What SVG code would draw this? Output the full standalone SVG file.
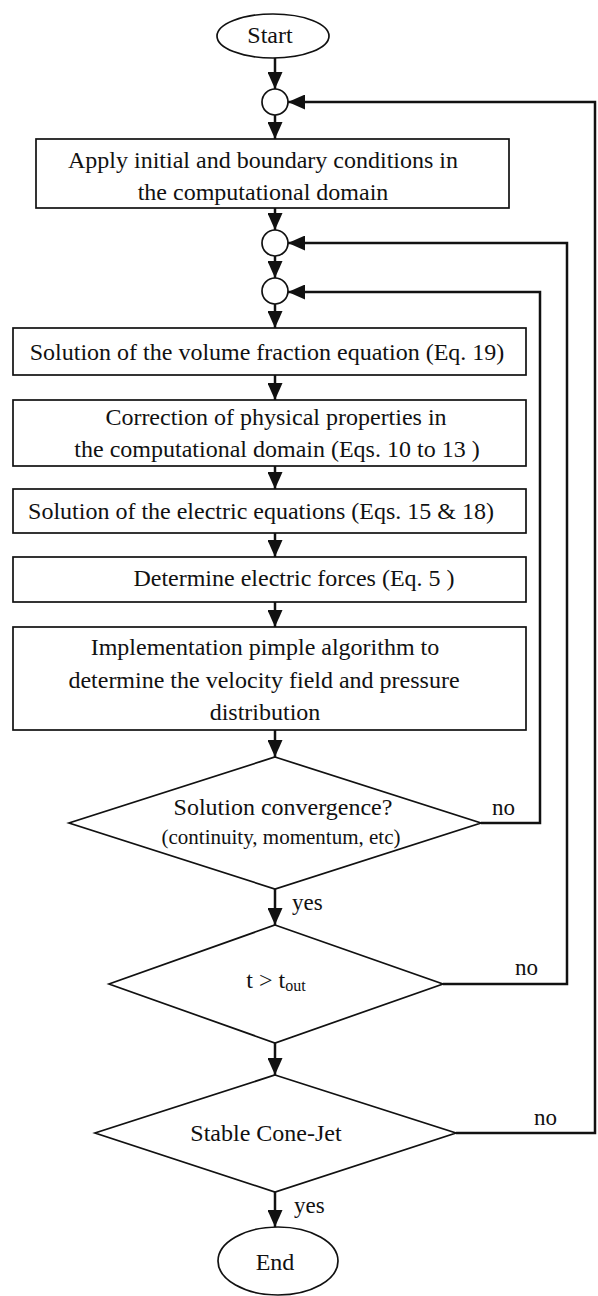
<svg xmlns="http://www.w3.org/2000/svg" width="598" height="1296" viewBox="0 0 598 1296">
<style>
.shape{fill:#fff;stroke:#111;stroke-width:1.7}
.conn{fill:none;stroke:#111;stroke-width:2.5}
text{font-family:"Liberation Serif","Times New Roman",serif;fill:#111;font-size:24px;text-anchor:middle}
.small{font-size:21px}
.lbl{font-size:23px;text-anchor:start}
</style>
<defs>
<marker id="ah" markerUnits="userSpaceOnUse" markerWidth="17" markerHeight="15" refX="17" refY="7.5" orient="auto">
<path d="M0,0 L17,7.5 L0,15 z" fill="#111"/>
</marker>
</defs>
<rect width="598" height="1296" fill="#fff"/>
<g id="connectors">
<path class="conn" marker-end="url(#ah)" d="M275,58 L275,89"/>
<path class="conn" marker-end="url(#ah)" d="M275,115 L275,139"/>
<path class="conn" marker-end="url(#ah)" d="M275,208 L275,230"/>
<path class="conn" marker-end="url(#ah)" d="M275,256 L275,278"/>
<path class="conn" marker-end="url(#ah)" d="M275,304 L275,328"/>
<path class="conn" marker-end="url(#ah)" d="M275,375 L275,400"/>
<path class="conn" marker-end="url(#ah)" d="M275,466 L275,489"/>
<path class="conn" marker-end="url(#ah)" d="M275,533 L275,557"/>
<path class="conn" marker-end="url(#ah)" d="M275,602 L275,627"/>
<path class="conn" marker-end="url(#ah)" d="M275,730 L275,757"/>
<path class="conn" marker-end="url(#ah)" d="M275,889 L275,925"/>
<path class="conn" marker-end="url(#ah)" d="M275,1043 L275,1075"/>
<path class="conn" marker-end="url(#ah)" d="M275,1192 L275,1227"/>
<path class="conn" marker-end="url(#ah)" d="M481,823 L540,823 L540,292 L288,292"/>
<path class="conn" marker-end="url(#ah)" d="M443,984 L567,984 L567,243 L288,243"/>
<path class="conn" marker-end="url(#ah)" d="M456,1133 L595,1133 L595,102 L288,102"/>
<text class="lbl" x="492" y="815">no</text>
<text class="lbl" x="292" y="910">yes</text>
<text class="lbl" x="515" y="975">no</text>
<text class="lbl" x="534" y="1125">no</text>
<text class="lbl" x="294" y="1213">yes</text>
</g>
<g id="start">
<ellipse class="shape" cx="273" cy="36" rx="56" ry="22"/>
<text x="270" y="43">Start</text>
</g>
<g id="junction1"><circle class="shape" cx="275" cy="102" r="13"/></g>
<g id="junction2"><circle class="shape" cx="275" cy="243" r="13"/></g>
<g id="junction3"><circle class="shape" cx="275" cy="291" r="13"/></g>
<g id="apply">
<rect class="shape" x="36" y="139" width="473" height="69"/>
<text x="263" y="168">Apply initial and boundary conditions in</text>
<text x="263" y="200">the computational domain</text>
</g>
<g id="volume">
<rect class="shape" x="13" y="328" width="513" height="47"/>
<text x="267" y="360">Solution of the volume fraction equation (Eq. 19)</text>
</g>
<g id="correction">
<rect class="shape" x="13" y="400" width="513" height="66"/>
<text x="276" y="425">Correction of physical properties in</text>
<text x="277" y="457">the computational domain (Eqs. 10 to 13 )</text>
</g>
<g id="electric">
<rect class="shape" x="13" y="489" width="513" height="44"/>
<text x="261" y="519">Solution of the electric equations (Eqs. 15 &amp; 18)</text>
</g>
<g id="forces">
<rect class="shape" x="13" y="557" width="513" height="45"/>
<text x="294" y="586">Determine electric forces (Eq. 5 )</text>
</g>
<g id="pimple">
<rect class="shape" x="13" y="627" width="513" height="103"/>
<text x="265" y="655">Implementation pimple algorithm to</text>
<text x="264" y="688">determine the velocity field and pressure</text>
<text x="265" y="720">distribution</text>
</g>
<g id="convergence">
<polygon class="shape" points="275,757 481,823 275,889 69,823"/>
<text x="283" y="815">Solution convergence?</text>
<text class="small" x="281" y="844">(continuity, momentum, etc)</text>
</g>
<g id="tout">
<polygon class="shape" points="275,925 443,984 275,1043 109,984"/>
<text x="276" y="988">t &gt; t<tspan font-size="16" dy="3">out</tspan></text>
</g>
<g id="conejet">
<polygon class="shape" points="275,1075 456,1133 275,1192 95,1133"/>
<text x="266" y="1141">Stable Cone-Jet</text>
</g>
<g id="end">
<ellipse class="shape" cx="278" cy="1261" rx="60" ry="34"/>
<text x="275" y="1270">End</text>
</g>
</svg>
